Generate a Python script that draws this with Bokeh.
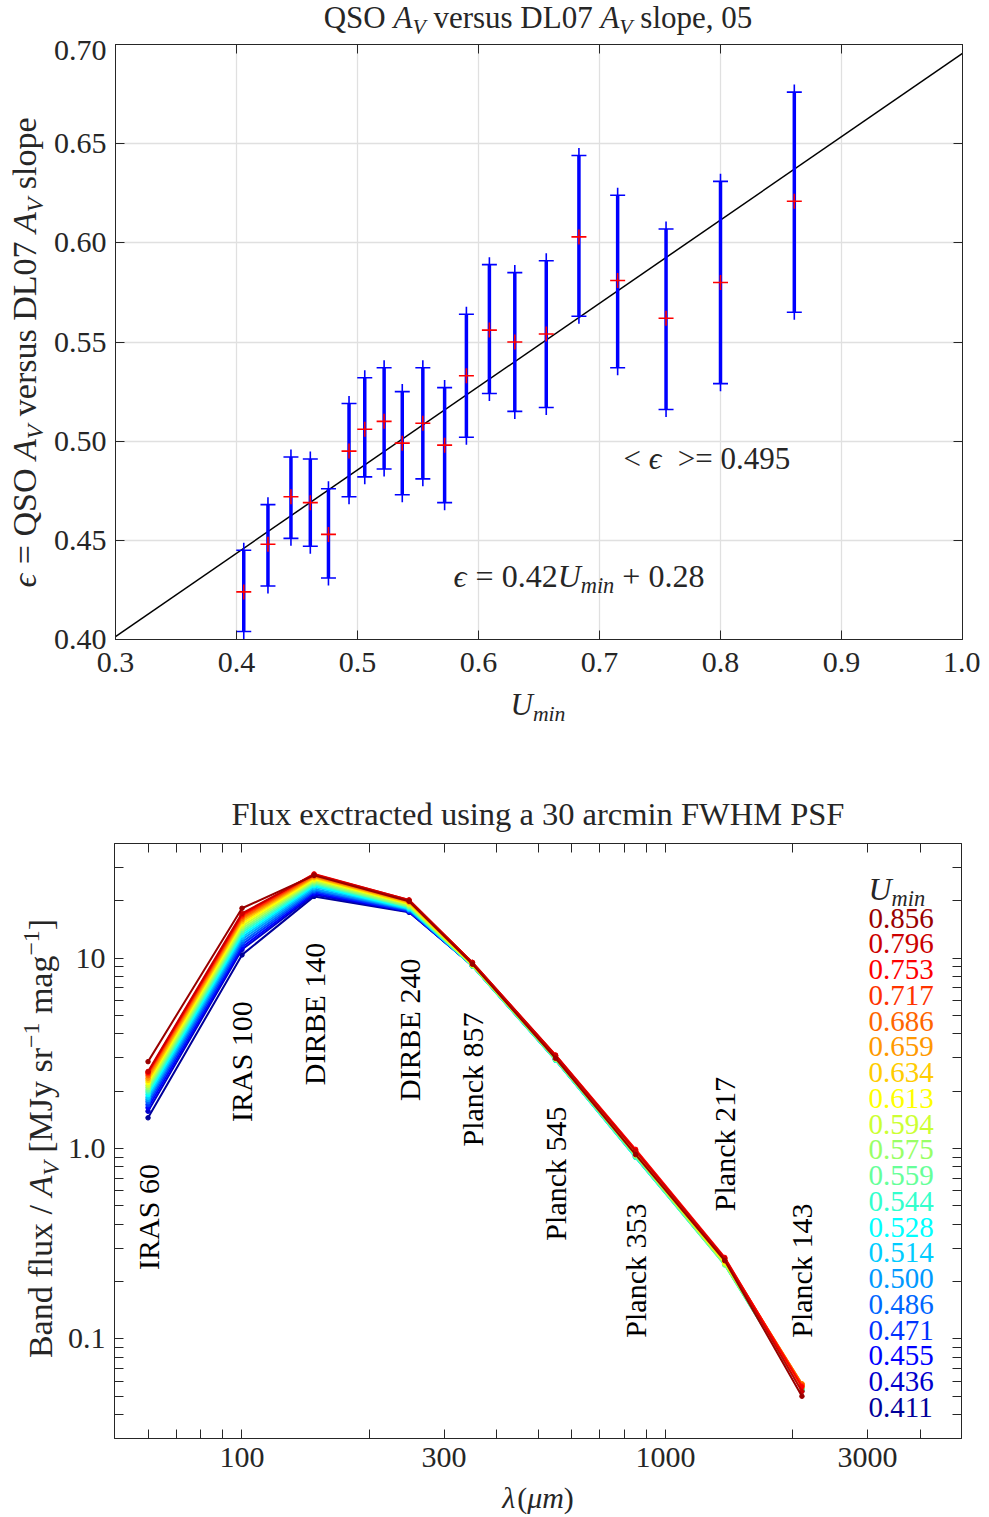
import math
from bokeh.plotting import figure
from bokeh.models import LinearAxis, LogAxis, FixedTicker, CustomJSTickFormatter, Range1d
from bokeh.layouts import column, row
from bokeh.embed import file_html
from bokeh.resources import INLINE
from bokeh.core.properties import value

# ---------------- data: top panel ----------------
u_min_bins = [0.406, 0.426, 0.445, 0.461, 0.476, 0.493, 0.506, 0.522, 0.537, 0.554,
              0.572, 0.590, 0.609, 0.630, 0.656, 0.683, 0.715, 0.755, 0.800, 0.861]
eps_center = [0.424, 0.448, 0.472, 0.469, 0.453, 0.495, 0.506, 0.510, 0.499, 0.509,
              0.498, 0.533, 0.556, 0.550, 0.554, 0.603, 0.581, 0.562, 0.580, 0.621]
eps_upper = [0.445, 0.468, 0.492, 0.491, 0.476, 0.519, 0.532, 0.537, 0.525, 0.537,
             0.527, 0.564, 0.589, 0.585, 0.591, 0.644, 0.624, 0.607, 0.631, 0.676]
eps_lower = [0.404, 0.427, 0.451, 0.447, 0.431, 0.472, 0.482, 0.486, 0.473, 0.481,
             0.469, 0.502, 0.524, 0.515, 0.517, 0.563, 0.537, 0.516, 0.529, 0.565]
fit_slope = 0.42
fit_intercept = 0.2755
fit_slope_text = "0.42"
fit_intercept_text = "0.28"
eps_mean_text = "0.495"
top_x_ticks = [0.3, 0.4, 0.5, 0.6, 0.7, 0.8, 0.9, 1.0]
top_x_tick_labels = ["0.3", "0.4", "0.5", "0.6", "0.7", "0.8", "0.9", "1.0"]
top_y_ticks = [0.40, 0.45, 0.50, 0.55, 0.60, 0.65, 0.70]
top_y_tick_labels = ["0.40", "0.45", "0.50", "0.55", "0.60", "0.65", "0.70"]

# ---------------- data: bottom panel ----------------
band_names = ["IRAS 60", "IRAS 100", "DIRBE 140", "DIRBE 240", "Planck 857",
              "Planck 545", "Planck 353", "Planck 217", "Planck 143"]
band_wavelength = [60, 100, 148, 248, 350, 550, 850, 1380, 2100]
legend_umin = ["0.411", "0.436", "0.455", "0.471", "0.486", "0.500", "0.514", "0.528", "0.544", "0.559",
               "0.575", "0.594", "0.613", "0.634", "0.659", "0.686", "0.717", "0.753", "0.796", "0.856"]
flux_iras60 = [1.45, 1.57, 1.64, 1.70, 1.76, 1.81, 1.86, 1.92, 1.98, 2.03,
               2.09, 2.15, 2.22, 2.28, 2.34, 2.41, 2.47, 2.51, 2.54, 2.86]
flux_iras100 = [10.4, 11.1, 11.40, 11.78, 12.16, 12.53, 12.88, 13.24, 13.61, 13.96,
                14.32, 14.72, 15.14, 15.56, 15.92, 16.26, 16.6, 16.9, 17.18, 18.28]
flux_dirbe140 = [21.1, 21.5, 21.9, 22.3, 22.7, 23.1, 23.6, 24.0, 24.4, 24.8,
                 25.2, 25.6, 26.0, 26.4, 26.7, 27.0, 27.4, 27.7, 27.5, 27.2]
flux_dirbe240 = [17.4, 17.5, 17.6, 17.7, 17.9, 18.0, 18.1, 18.3, 18.5, 18.6,
                 18.8, 19.1, 19.3, 19.5, 19.7, 19.9, 20.0, 20.2, 20.2, 19.9]
flux_planck857 = [9.15, 9.15, 9.12, 9.12, 9.10, 9.10, 9.08, 9.08, 9.10, 9.12,
                  9.15, 9.20, 9.25, 9.30, 9.35, 9.40, 9.45, 9.50, 9.50, 9.30]
flux_planck545 = [2.95, 2.95, 2.93, 2.93, 2.92, 2.92, 2.91, 2.91, 2.92, 2.93,
                  2.95, 2.97, 3.00, 3.02, 3.04, 3.06, 3.08, 3.10, 3.08, 2.98]
flux_planck353 = [0.92, 0.92, 0.91, 0.91, 0.91, 0.90, 0.90, 0.90, 0.90, 0.91,
                  0.92, 0.93, 0.94, 0.95, 0.96, 0.97, 0.98, 0.99, 0.97, 0.93]
flux_planck217 = [0.255, 0.255, 0.252, 0.250, 0.250, 0.248, 0.247, 0.246, 0.245, 0.245,
                  0.247, 0.250, 0.253, 0.256, 0.259, 0.262, 0.265, 0.268, 0.265, 0.258]
flux_planck143 = [0.054, 0.054, 0.054, 0.054, 0.054, 0.054, 0.054, 0.054, 0.054, 0.054,
                  0.055, 0.056, 0.057, 0.058, 0.058, 0.058, 0.057, 0.056, 0.053, 0.050]
bot_x_ticks = [100, 300, 1000, 3000]
bot_x_tick_labels = ["100", "300", "1000", "3000"]
bot_x_minor = [60, 70, 80, 90, 200, 400, 500, 600, 700, 800, 900, 2000, 4000]
bot_y_ticks = [0.1, 1, 10]
bot_y_tick_labels = ["0.1", "1.0", "10"]
bot_y_minor = [0.04, 0.05, 0.06, 0.07, 0.08, 0.09, 0.2, 0.3, 0.4, 0.5, 0.6, 0.7, 0.8, 0.9,
               2, 3, 4, 5, 6, 7, 8, 9, 20, 30]

# ---------------- style ----------------
FONT = "Liberation Serif"
TXT = "#262626"
JET20 = ["#000099", "#0000CC", "#0000FF", "#0033FF", "#0066FF", "#0099FF", "#00CCFF", "#00FFFF",
         "#33FFCC", "#66FF99", "#99FF66", "#CCFF33", "#FFFF00", "#FFCC00", "#FF9900", "#FF6600",
         "#FF3300", "#FF0000", "#CC0000", "#990000"]

W_R = {' ': 250, '(': 333, ')': 333, '+': 564, ',': 250, '-': 333, '.': 250, '/': 278,
       '<': 564, '=': 564, '>': 564, '[': 333, ']': 333, '\u2212': 564,
       'A': 722, 'B': 667, 'C': 667, 'D': 722, 'E': 611, 'F': 556, 'G': 722, 'H': 722, 'I': 333,
       'J': 389, 'K': 722, 'L': 611, 'M': 889, 'N': 722, 'O': 722, 'P': 556, 'Q': 722, 'R': 667,
       'S': 556, 'T': 611, 'U': 722, 'V': 722, 'W': 944, 'X': 722, 'Y': 722, 'Z': 611,
       'a': 444, 'b': 500, 'c': 444, 'd': 500, 'e': 444, 'f': 333, 'g': 500, 'h': 500, 'i': 278,
       'j': 278, 'k': 500, 'l': 278, 'm': 778, 'n': 500, 'o': 500, 'p': 500, 'q': 500, 'r': 333,
       's': 389, 't': 278, 'u': 500, 'v': 500, 'w': 722, 'x': 500, 'y': 500, 'z': 444}
W_I = {'A': 611, 'U': 722, 'V': 611, 'm': 722, 'i': 278, 'n': 500, '\u03f5': 440,
       '\u03bb': 500, '\u03bc': 500, ' ': 250}
MID = 0.355  # distance (em) between the middle of a text box and its baseline


def tw(s, italic):
    tab = W_I if italic else W_R
    return sum(tab.get(ch, W_R.get(ch, 500)) for ch in s) / 1000.0


def rich(p, fmap, pieces, x, y, size, anchor="left", angle=0.0, color=TXT):
    """Mixed-style text. pieces: (text, italic, scale, baseline shift in em).
    x, y: baseline start in frame pixels (y up); fmap converts them to data units."""
    widths = [tw(t, it) * size * sc for (t, it, sc, dy) in pieces]
    total = sum(widths)
    pos = {"left": 0.0, "center": -total / 2.0, "right": -total}[anchor]
    for (t, it, sc, dy), w in zip(pieces, widths):
        s = size * sc
        lead = len(t) - len(t.lstrip(' '))
        off = tw(' ' * lead, it) * s
        txt = t.strip(' ')
        if txt:
            if angle == 0:
                px, py = x + pos + off, y + dy * size + MID * s
            else:
                px, py = x - dy * size - MID * s, y + pos + off
            X, Y = fmap(px, py)
            p.text(x=[X], y=[Y], text=[txt], angle=angle, text_align="left",
                   text_baseline="middle", text_font=value(FONT),
                   text_font_style="italic" if it else "normal",
                   text_font_size=f"{s:.1f}px", text_color=color)
        pos += w


def style_axis(ax, ticks, labels, minor=None, standoff=10, hidden=False):
    ax.ticker = FixedTicker(ticks=ticks, minor_ticks=minor or [])
    ax.formatter = CustomJSTickFormatter(args=dict(tv=ticks, tl=labels), code="""
        for (let i = 0; i < tv.length; i++) {
            if (Math.abs(tv[i] - tick) <= 1e-9 * Math.max(1, Math.abs(tick))) return tl[i];
        }
        return "";""")
    ax.axis_line_color = TXT
    ax.axis_line_width = 1
    ax.major_tick_line_color = TXT
    ax.major_tick_in = 9
    ax.major_tick_out = 0
    ax.minor_tick_line_color = TXT if minor else None
    ax.minor_tick_in = 9
    ax.minor_tick_out = 0
    ax.major_label_text_font = FONT
    ax.major_label_text_font_size = "0px" if hidden else "30px"
    ax.major_label_text_color = TXT
    ax.major_label_standoff = 0 if hidden else standoff


def text_fig(w, h, btop=0, bbot=0):
    """A blank strip used only to hold text; its frame is h - btop - bbot pixels tall."""
    fh = h - btop - bbot
    f = figure(width=w, height=h, x_range=Range1d(0, w), y_range=Range1d(0, fh),
               x_axis_location=None, y_axis_location=None, min_border_left=0,
               min_border_right=0, min_border_top=btop, min_border_bottom=bbot,
               output_backend="svg", toolbar_location=None)
    f.grid.visible = False
    f.outline_line_color = None
    return f


def ident(px, py):
    return px, py


# page layout (pixels)
W_PAGE = 979
FW, FH = 847, 595
FRAME_LEFT = 114
W_YLAB1, W_YLAB2 = 50, 64
B_RIGHT = 18
B_TOP1, B_TOP2 = 4, 8
B_BOT1, B_BOT2 = 48, 42
H_T1 = 40
H_P1 = B_TOP1 + FH + B_BOT1
H_P2 = B_TOP2 + FH + B_BOT2
CX = FRAME_LEFT + FW / 2          # horizontal centre of the frames
P1_TOP = H_T1
P1_BOTTOM = P1_TOP + B_TOP1 + FH  # page y of the lower edge of the top frame
P2_TOP = 835
P2_BOTTOM = P2_TOP + B_TOP2 + FH
X1_TOP = P1_TOP + H_P1
H_X1 = 48
T2_TOP = X1_TOP + H_X1
H_T2 = P2_TOP - T2_TOP
X2_TOP = P2_TOP + H_P2
H_X2 = 36

# ---------------- top figure ----------------
p1 = figure(x_range=Range1d(0.3, 1.0), y_range=Range1d(0.40, 0.70),
            frame_width=FW, frame_height=FH,
            min_border_left=FRAME_LEFT - W_YLAB1, min_border_right=B_RIGHT, min_border_top=B_TOP1,
            min_border_bottom=B_BOT1, output_backend="svg", toolbar_location=None)
p1.outline_line_color = TXT
style_axis(p1.below[0], top_x_ticks, top_x_tick_labels, standoff=13)
style_axis(p1.left[0], top_y_ticks, top_y_tick_labels, standoff=9)
ax = LinearAxis()
style_axis(ax, top_x_ticks, [""] * len(top_x_ticks), hidden=True)
p1.add_layout(ax, "above")
ax = LinearAxis()
style_axis(ax, top_y_ticks, [""] * len(top_y_ticks), hidden=True)
p1.add_layout(ax, "right")
p1.xgrid.ticker = FixedTicker(ticks=top_x_ticks)
p1.ygrid.ticker = FixedTicker(ticks=top_y_ticks)
p1.xgrid.grid_line_color = "#e0e0e0"
p1.ygrid.grid_line_color = "#e0e0e0"
p1.xgrid.grid_line_width = 1.3
p1.ygrid.grid_line_width = 1.3

fit_x = [0.3, 1.0]
fit_y = [fit_slope * v + fit_intercept for v in fit_x]
p1.line(fit_x, fit_y, line_color="black", line_width=1.5)
p1.segment(x0=u_min_bins, y0=eps_lower, x1=u_min_bins, y1=eps_upper, line_color="#0000FF", line_width=3.5)
p1.scatter(u_min_bins, eps_upper, marker="cross", size=15, line_color="#0000FF", line_width=1.6)
p1.scatter(u_min_bins, eps_lower, marker="cross", size=15, line_color="#0000FF", line_width=1.6)
p1.scatter(u_min_bins, eps_center, marker="cross", size=15, line_color="#FF0000", line_width=1.6)


def p1_map(px, py):
    return 0.3 + 0.7 * px / FW, 0.40 + 0.30 * py / FH


EPS = "\u03f5"
rich(p1, p1_map, [("< ", False, 1, 0), (EPS, True, 1, 0), ("  >= " + eps_mean_text, False, 1, 0)],
     622 - FRAME_LEFT, P1_BOTTOM - 469, 31)
rich(p1, p1_map, [(EPS, True, 1, 0), (" = " + fit_slope_text, False, 1, 0), ("U", True, 1, 0),
                  ("min", True, 0.7, -0.2), (" + " + fit_intercept_text, False, 1, 0)],
     452 - FRAME_LEFT, P1_BOTTOM - 587, 32)

# title / axis-label strips of the top panel
t1 = text_fig(W_PAGE, H_T1)
rich(t1, ident, [("QSO ", False, 1, 0), ("A", True, 1, 0), ("V", True, 0.7, -0.2),
                 (" versus DL07 ", False, 1, 0), ("A", True, 1, 0), ("V", True, 0.7, -0.2),
                 (" slope, 05", False, 1, 0)], CX, H_T1 - 28, 31, anchor="center")
yl1 = text_fig(W_YLAB1, H_P1, B_TOP1, B_BOT1)
rich(yl1, ident, [(EPS, True, 1, 0), (" = QSO ", False, 1, 0), ("A", True, 1, 0), ("V", True, 0.7, -0.2),
                  (" versus DL07 ", False, 1, 0), ("A", True, 1, 0), ("V", True, 0.7, -0.2),
                  (" slope", False, 1, 0)], 36, P1_BOTTOM - 352, 34, anchor="center",
     angle=math.pi / 2)
x1 = text_fig(W_PAGE, H_X1)
rich(x1, ident, [("U", True, 1, 0), ("min", True, 0.7, -0.2)], CX, X1_TOP + H_X1 - 715, 31,
     anchor="center")

# ---------------- bottom figure ----------------
p2 = figure(x_axis_type="log", y_axis_type="log",
            x_range=Range1d(50, 5000), y_range=Range1d(0.03, 40),
            frame_width=FW, frame_height=FH,
            min_border_left=FRAME_LEFT - W_YLAB2, min_border_right=B_RIGHT, min_border_top=B_TOP2,
            min_border_bottom=B_BOT2, output_backend="svg", toolbar_location=None)
p2.outline_line_color = TXT
p2.xgrid.visible = False
p2.ygrid.visible = False
style_axis(p2.below[0], bot_x_ticks, bot_x_tick_labels, minor=bot_x_minor, standoff=9)
style_axis(p2.left[0], bot_y_ticks, bot_y_tick_labels, minor=bot_y_minor, standoff=9)
ax = LogAxis()
style_axis(ax, bot_x_ticks, [""] * len(bot_x_ticks), minor=bot_x_minor, hidden=True)
p2.add_layout(ax, "above")
ax = LogAxis()
style_axis(ax, bot_y_ticks, [""] * len(bot_y_ticks), minor=bot_y_minor, hidden=True)
p2.add_layout(ax, "right")

band_series = [flux_iras60, flux_iras100, flux_dirbe140, flux_dirbe240, flux_planck857,
               flux_planck545, flux_planck353, flux_planck217, flux_planck143]
for i, col in enumerate(JET20):
    fl = [s[i] for s in band_series]
    p2.line(band_wavelength, fl, line_color=col, line_width=2)
    p2.scatter(band_wavelength, fl, size=4.5, fill_color=col, line_color=col)

# band labels, placed just below (or above) the bundle of curves
label_above = [False, False, False, False, False, False, False, True, True]
gap = 1.75
bx_lo, by_lo, bt_lo, bx_hi, by_hi, bt_hi = [], [], [], [], [], []
for name, lam, s, up in zip(band_names, band_wavelength, band_series, label_above):
    if up:
        bx_hi.append(lam); by_hi.append(max(s) * gap); bt_hi.append(name)
    else:
        bx_lo.append(lam); by_lo.append(min(s) / gap); bt_lo.append(name)
p2.text(bx_lo, by_lo, text=bt_lo, angle=math.pi / 2, text_align="right", text_baseline="middle",
        text_font=value(FONT), text_font_size="30px", text_color="black")
p2.text(bx_hi, by_hi, text=bt_hi, angle=math.pi / 2, text_align="left", text_baseline="middle",
        text_font=value(FONT), text_font_size="30px", text_color="black")

LX0, LX1 = math.log10(50), math.log10(5000)
LY0, LY1 = math.log10(0.03), math.log10(40)


def p2_map(px, py):
    return 10 ** (LX0 + (LX1 - LX0) * px / FW), 10 ** (LY0 + (LY1 - LY0) * py / FH)


rich(p2, p2_map, [("U", True, 1, 0), ("min", True, 0.7, -0.2)], 868 - FRAME_LEFT, P2_BOTTOM - 900, 32)
for k in range(len(legend_umin)):
    idx = len(legend_umin) - 1 - k
    rich(p2, p2_map, [(legend_umin[idx], False, 1, 0)], 868 - FRAME_LEFT,
         P2_BOTTOM - 928 - 25.74 * k, 29, color=JET20[idx])

t2 = text_fig(W_PAGE, H_T2)
rich(t2, ident, [("Flux exctracted using a 30 arcmin FWHM PSF", False, 1, 0)],
     CX, P2_TOP - 825, 32.5, anchor="center")
yl2 = text_fig(W_YLAB2, H_P2, B_TOP2, B_BOT2)
rich(yl2, ident, [("Band flux / ", False, 1, 0), ("A", True, 1, 0), ("V", True, 0.7, -0.2),
                  (" [MJy sr", False, 1, 0), ("\u22121", False, 0.7, 0.38), (" mag", False, 1, 0),
                  ("\u22121", False, 0.7, 0.38), ("]", False, 1, 0)],
     52, P2_BOTTOM - 1138, 34, anchor="center", angle=math.pi / 2)
x2 = text_fig(W_PAGE, H_X2)
rich(x2, ident, [("\u03bb", True, 1, 0), ("(", False, 1, 0), ("\u03bcm", True, 1, 0), (")", False, 1, 0)],
     CX, X2_TOP + H_X2 - 1508, 30, anchor="center")

layout = column(t1, row(yl1, p1), x1, t2, row(yl2, p2), x2)
open("out.html", "w").write(file_html(layout, INLINE, title="QSO AV slope"))
